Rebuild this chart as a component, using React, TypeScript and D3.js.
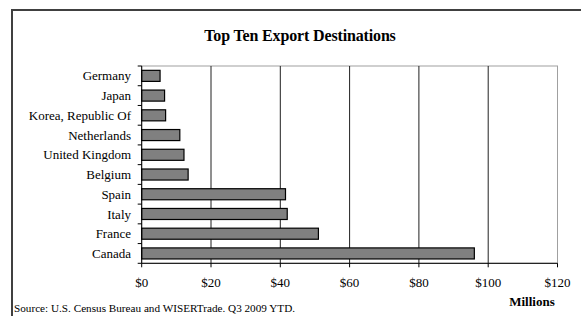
import React, { useEffect, useRef } from 'react';
import * as d3 from 'd3';

const countries = [
  'Germany',
  'Japan',
  'Korea, Republic Of',
  'Netherlands',
  'United Kingdom',
  'Belgium',
  'Spain',
  'Italy',
  'France',
  'Canada',
];
const exportValues = [5.3, 6.6, 6.9, 11.0, 12.2, 13.4, 41.5, 42.0, 51.0, 96.0];
const xTicks = [0, 20, 40, 60, 80, 100, 120];

const App: React.FC = () => {
  const ref = useRef<SVGSVGElement | null>(null);

  useEffect(() => {
    if (!ref.current) return;
    const svg = d3.select(ref.current);
    svg.selectAll('*').remove();
    const width = 581;
    const height = 316;
    const font = '"Liberation Serif", "Times New Roman", serif';

    const left = 141.7;
    const right = 557.5;
    const top = 66;
    const bottom = 263.3;

    svg.attr('width', width).attr('height', height);

    // outer frame (runs off the right and bottom edges)
    svg.append('rect')
      .attr('x', 12).attr('y', 10)
      .attr('width', 600).attr('height', 340)
      .attr('fill', 'white')
      .attr('stroke', '#404040')
      .attr('stroke-width', 2);

    svg.append('text')
      .attr('x', 300).attr('y', 41)
      .attr('text-anchor', 'middle')
      .attr('font-family', font)
      .attr('font-size', 16)
      .attr('font-weight', 'bold')
      .attr('letter-spacing', -0.15)
      .text('Top Ten Export Destinations');

    const x = d3.scaleLinear().domain([0, 120]).range([left, right]);
    const y = d3.scaleBand().domain(countries).range([top, bottom]).paddingInner(0.44).paddingOuter(0.22);

    // plot frame (grey top/right)
    svg.append('rect')
      .attr('x', left).attr('y', top)
      .attr('width', right - left).attr('height', bottom - top)
      .attr('fill', 'none')
      .attr('stroke', '#a0a0a0')
      .attr('stroke-width', 1);

    // gridlines
    svg.append('g')
      .selectAll('line')
      .data(xTicks.slice(1, -1))
      .enter()
      .append('line')
      .attr('x1', (d) => x(d)).attr('x2', (d) => x(d))
      .attr('y1', top).attr('y2', bottom)
      .attr('stroke', '#202020')
      .attr('stroke-width', 1);

    // bars
    svg.append('g')
      .selectAll('rect')
      .data(countries)
      .enter()
      .append('rect')
      .attr('x', x(0))
      .attr('y', (d) => y(d) as number)
      .attr('width', (d, i) => x(exportValues[i]) - x(0))
      .attr('height', y.bandwidth())
      .attr('fill', '#808080')
      .attr('stroke', '#000')
      .attr('stroke-width', 1.2);

    // y axis
    const step = (bottom - top) / countries.length;
    const yTickPos = d3.range(countries.length + 1).map((i) => top + i * step);
    const ya = svg.append('g');
    ya.append('line')
      .attr('x1', left).attr('x2', left)
      .attr('y1', top).attr('y2', bottom)
      .attr('stroke', '#000');
    ya.selectAll('line.tick')
      .data(yTickPos)
      .enter()
      .append('line')
      .attr('class', 'tick')
      .attr('x1', left - 4).attr('x2', left)
      .attr('y1', (d) => d).attr('y2', (d) => d)
      .attr('stroke', '#000');
    ya.selectAll('text')
      .data(countries)
      .enter()
      .append('text')
      .attr('x', 131)
      .attr('y', (d) => (y(d) as number) + y.bandwidth() / 2)
      .attr('dy', '0.35em')
      .attr('text-anchor', 'end')
      .attr('font-family', font)
      .attr('font-size', 13)
      .attr('fill', '#000')
      .text((d) => d);

    // x axis
    const xa = svg.append('g');
    xa.append('line')
      .attr('x1', left).attr('x2', right)
      .attr('y1', bottom).attr('y2', bottom)
      .attr('stroke', '#000');
    xa.selectAll('line.tick')
      .data(xTicks)
      .enter()
      .append('line')
      .attr('class', 'tick')
      .attr('x1', (d) => x(d)).attr('x2', (d) => x(d))
      .attr('y1', bottom).attr('y2', bottom + 4)
      .attr('stroke', '#000');
    xa.selectAll('text')
      .data(xTicks)
      .enter()
      .append('text')
      .attr('x', (d) => x(d))
      .attr('y', 287)
      .attr('text-anchor', 'middle')
      .attr('font-family', font)
      .attr('font-size', 13)
      .text((d) => `$${d}`);

    svg.append('text')
      .attr('x', 532).attr('y', 306)
      .attr('text-anchor', 'middle')
      .attr('font-family', font)
      .attr('font-size', 13)
      .attr('font-weight', 'bold')
      .text('Millions');

    svg.append('text')
      .attr('x', 14).attr('y', 312)
      .attr('font-family', font)
      .attr('font-size', 11.2)
      .text('Source: U.S. Census Bureau and WISERTrade. Q3 2009 YTD.');
  }, []);

  return (
    <svg ref={ref} style={{ position: 'absolute', left: 0, top: 0, display: 'block' }}></svg>
  );
};

export default App;
